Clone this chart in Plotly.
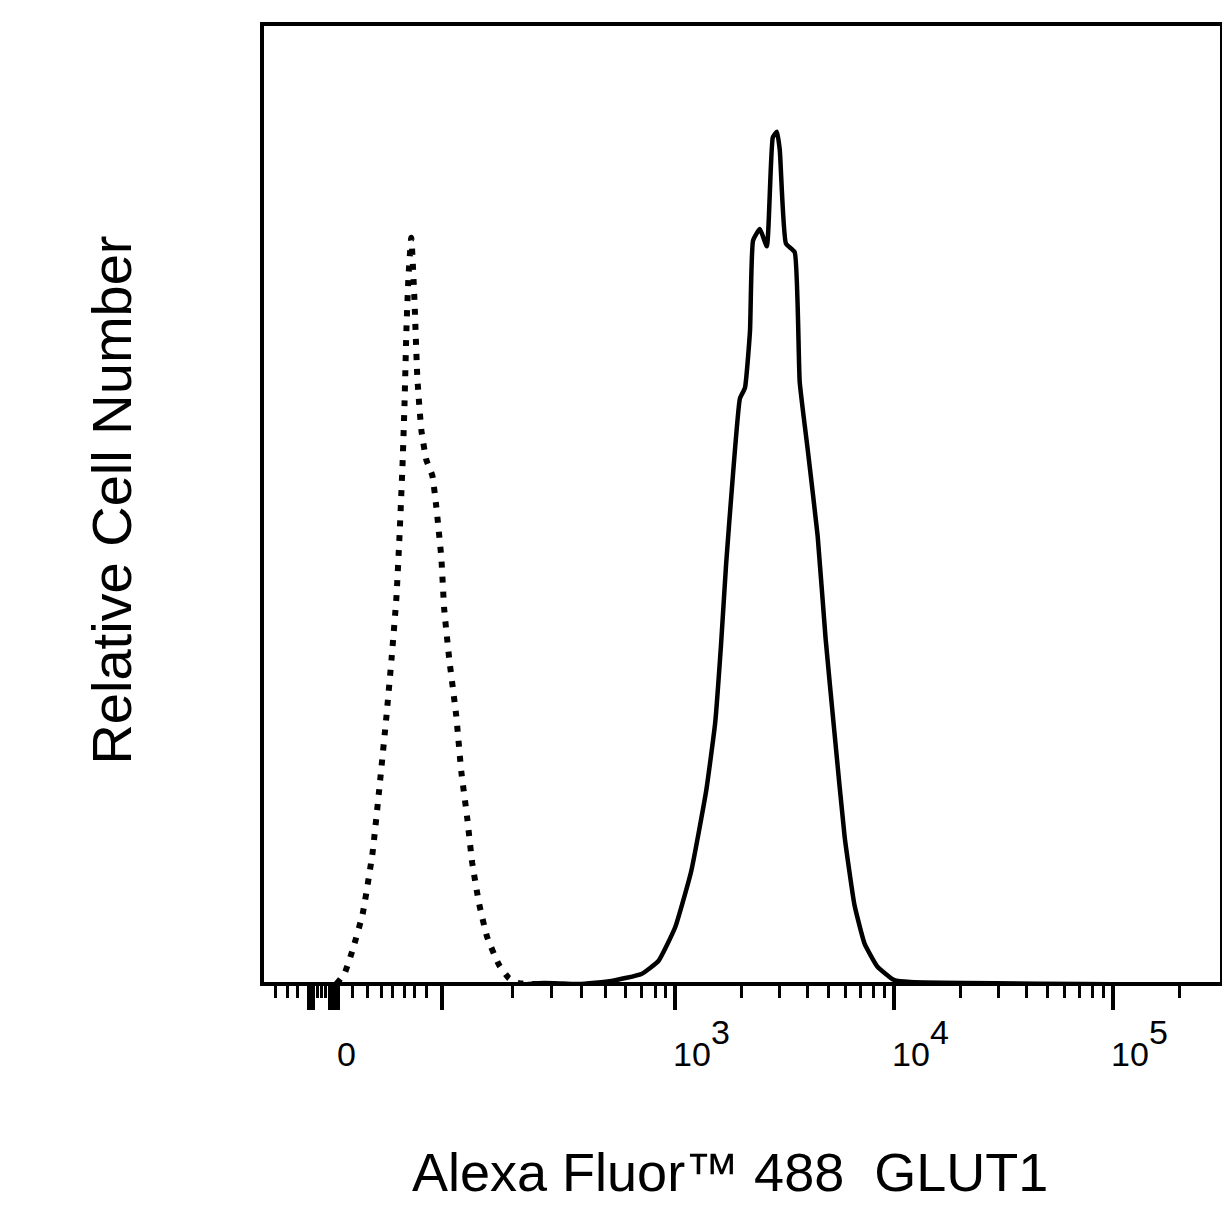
import numpy as np
import plotly.graph_objects as go

# x values are in display units of the biexponential axis (10^3 -> 3, 10^4 -> 4 ...)
# y values are relative counts, 0-100 of the axis height

# GLUT1 stained sample (solid)
glut1_x = [1.114, 2.255, 2.40, 2.559, 2.709, 2.845, 2.923, 3.000, 3.073, 3.141,
           3.182, 3.209, 3.232, 3.264, 3.295, 3.318, 3.341, 3.355, 3.386, 3.418,
           3.445, 3.464, 3.477, 3.505, 3.545, 3.568, 3.605, 3.650, 3.686, 3.727,
           3.773, 3.818, 3.864, 3.923, 4.000, 4.073, 5.49]
glut1_y = [0, 0, 0.2, 0.1, 0.42, 1.14, 2.49, 6.02, 11.84, 20.15,
           27.2, 35.4, 43.7, 53.2, 60.9, 62.0, 67.9, 77.3, 78.5, 76.7,
           88.0, 88.6, 86.7, 77.0, 76.1, 62.6, 55.5, 46.6, 36.0, 26.1,
           15.4, 8.3, 4.3, 1.9, 0.5, 0.3, 0]

# control (dotted)
ctrl_x = [1.114, 1.4455, 1.491, 1.527, 1.573, 1.618, 1.650, 1.682, 1.705, 1.727,
          1.741, 1.755, 1.764, 1.773, 1.782, 1.795, 1.809, 1.823, 1.841, 1.864,
          1.891, 1.909, 1.932, 1.945, 1.968, 2.000, 2.023, 2.050, 2.073, 2.105,
          2.141, 2.195, 2.241, 2.286, 5.49]
ctrl_y = [0, 0, 1.25, 3.63, 7.37, 13.7, 20.6, 28.0, 33.9, 40.2,
          46.5, 54.0, 60.3, 68.2, 73.5, 77.6, 71.4, 62.9, 57.6, 54.5,
          52.9, 49.7, 44.4, 39.1, 33.9, 28.0, 22.2, 17.4, 12.7, 8.4,
          5.0, 2.1, 0.7, 0.2, 0]

# axis ticks
major_ticks = [1.327, 1.345, 1.423, 1.441, 1.459, 1.936, 3, 4, 5]
minor_low = [1.173, 1.232, 1.277, 1.368, 1.386, 1.405, 1.527, 1.595, 1.659, 1.709,
             1.764, 1.809, 1.864, 2.255, 2.436, 2.573, 2.682, 2.773, 2.845, 2.909, 2.955]
minor_high = list(np.log10([m * 10**d for d in (3, 4) for m in range(2, 10)] + [2e5]))
minor_ticks = minor_low + minor_high

label_vals = [1.459, 3, 4, 5]
label_base = ["0", "10", "10", "10"]
label_exp = ["", "3", "4", "5"]

fig = go.Figure()
fig.add_trace(go.Scatter(x=ctrl_x, y=ctrl_y, mode="lines",
                         line=dict(color="black", width=6, dash="6px,9px",
                                   shape="spline", smoothing=0.4)))
fig.add_trace(go.Scatter(x=glut1_x, y=glut1_y, mode="lines",
                         line=dict(color="black", width=4.5, shape="spline", smoothing=0.4)))

tick_font = dict(family="Liberation Sans, Arial", size=34, color="black")
annots = []
for v, b, e in zip(label_vals, label_base, label_exp):
    annots.append(dict(x=v, y=-0.0753, xref="x", yref="paper", text=b, showarrow=False,
                       xanchor="center", yanchor="middle",
                       xshift=9 if b == "0" else 17, font=tick_font))
    if e:
        annots.append(dict(x=v, y=-0.0523, xref="x", yref="paper", text=e, showarrow=False,
                           xanchor="center", yanchor="middle", xshift=45, font=tick_font))

title_font = dict(family="Liberation Sans, Arial", color="black")
annots.append(dict(x=0.487, y=-0.1987, xref="paper", yref="paper", showarrow=False,
                   xanchor="center", yanchor="middle",
                   text="Alexa Fluor™ 488  GLUT1", font=dict(size=54, **title_font)))
annots.append(dict(x=-0.1594, y=0.5042, xref="paper", yref="paper", showarrow=False,
                   xanchor="center", yanchor="middle",
                   text="Relative Cell Number", textangle=-90, font=dict(size=56, **title_font)))

fig.update_layout(
    width=1219, height=1210,
    margin=dict(l=256, r=3, t=18, b=236),
    paper_bgcolor="white", plot_bgcolor="white",
    showlegend=False,
    annotations=annots,
)
fig.update_xaxes(
    range=[1.1227, 5.4864], showgrid=False, zeroline=False,
    showline=True, linecolor="black", linewidth=4, mirror=True,
    tickmode="array", tickvals=major_ticks, ticks="outside", ticklen=24, tickwidth=4,
    tickcolor="black", showticklabels=False,
    minor=dict(tickmode="array", tickvals=minor_ticks, ticks="outside", ticklen=12,
               tickwidth=3, tickcolor="black", showgrid=False),
)
fig.update_yaxes(
    range=[0.31, 99.58], showgrid=False, zeroline=False,
    showline=True, linecolor="black", linewidth=4, mirror=True,
    ticks="", showticklabels=False,
)

fig.write_html("out.html")
